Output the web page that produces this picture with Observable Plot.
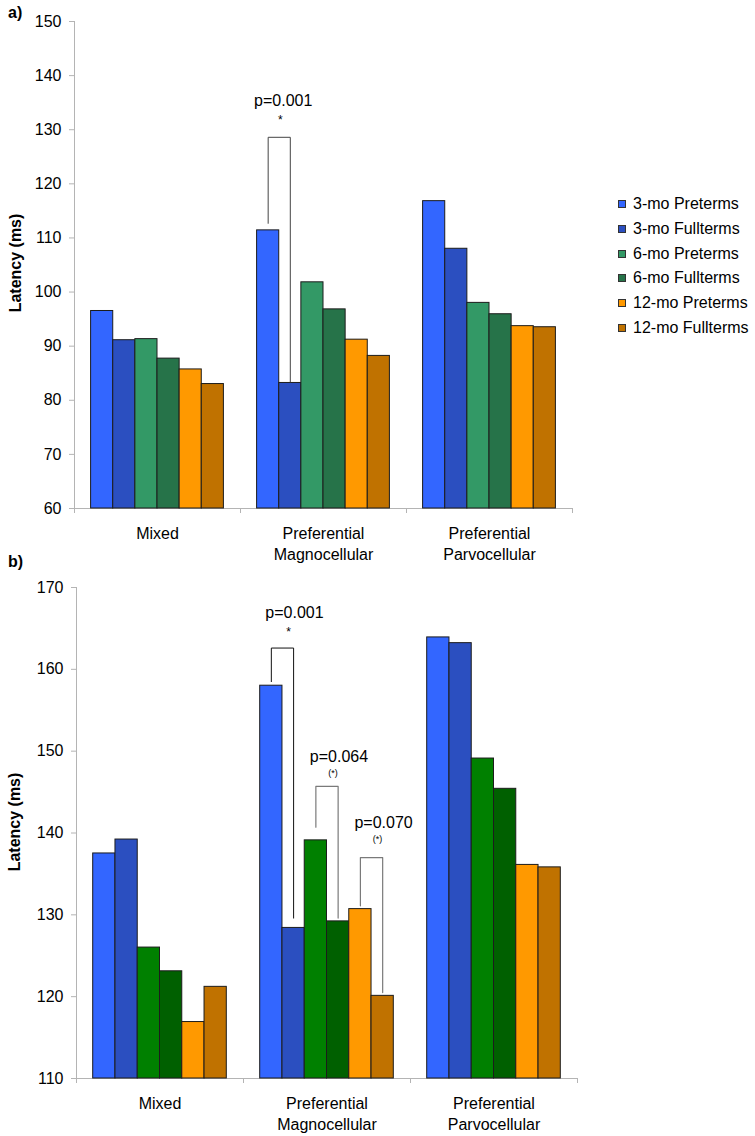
<!DOCTYPE html>
<html><head><meta charset="utf-8">
<script src="https://cdn.jsdelivr.net/npm/d3@7"></script>
<script src="https://cdn.jsdelivr.net/npm/@observablehq/plot@0.6"></script>
<style>
body{margin:0;background:#fff;}
#wrap{position:relative;width:755px;height:1136px;font-family:"Liberation Sans",Arial,sans-serif;color:#000;background:#fff;}
#wrap > svg{position:absolute;left:0;}
.plabel{position:absolute;left:8px;font-weight:bold;font-size:16px;line-height:16px;}
#legend{position:absolute;left:618px;top:192px;font-size:16px;}
.li{display:flex;align-items:center;height:24.7px;white-space:nowrap;}
.sw{width:8px;height:8px;box-sizing:border-box;border:1px solid #333;margin-right:7px;flex:none;}
</style></head><body><div id="wrap"></div>
<script>
// ---- data ----
const categories = ["Mixed", "Preferential\nMagnocellular", "Preferential\nParvocellular"];
const groups = ["3-mo Preterms", "3-mo Fullterms", "6-mo Preterms", "6-mo Fullterms", "12-mo Preterms", "12-mo Fullterms"];
const colorsA = ["#3366ff", "#2b4fc0", "#339966", "#267349", "#ff9900", "#c07200"];
const colorsB = ["#3366ff", "#2b4fc0", "#008000", "#006000", "#ff9900", "#c07200"];

// panel a) values (ms), one array per category, in group order
const aMixed = [96.5, 91.1, 91.3, 87.7, 85.7, 83.0];
const aMagno = [111.4, 83.2, 101.8, 96.8, 91.2, 88.2];
const aParvo = [116.8, 108.0, 98.0, 95.9, 93.7, 93.5];
// panel b) values (ms)
const bMixed = [137.5, 139.2, 126.0, 123.1, 116.9, 121.2];
const bMagno = [158.0, 128.4, 139.1, 129.2, 130.7, 120.1];
const bParvo = [163.9, 163.2, 149.1, 145.4, 136.1, 135.8];

const ticksA = [60, 70, 80, 90, 100, 110, 120, 130, 140, 150];
const ticksB = [110, 120, 130, 140, 150, 160, 170];

// significance brackets: category, bar indices, bracket top, leg ends, labels (data units)
const bracketsA = [
  {cat: categories[1], from: 0, to: 1, top: 128.6, end1: 112.7, end2: 83.4, p: "p=0.001", pY: 135.4, mark: "*", markY: 131.8}
];
const bracketsB = [
  {cat: categories[1], from: 0, to: 1, top: 162.6, end1: 158.5, end2: 129.6, p: "p=0.001", pY: 166.9, mark: "*", markY: 164.6},
  {cat: categories[1], from: 2, to: 3, top: 145.7, end1: 140.7, end2: 129.6, p: "p=0.064", pY: 149.3, mark: "(*)", markY: 147.3},
  {cat: categories[1], from: 4, to: 5, top: 137.0, end1: 131.1, end2: 120.5, p: "p=0.070", pY: 141.2, mark: "(*)", markY: 139.3}
];

const FONT = '"Liberation Sans", Arial, Helvetica, sans-serif';
const GRAY = "#b4b4b4";

function makePanel(cfg) {
  const {values, colors, ticks, brackets} = cfg;
  const yMin = ticks[0], yMax = ticks[ticks.length - 1];
  const rows = [];
  categories.forEach((c, ci) => groups.forEach((g, gi) => rows.push({cat: c, group: g, gi, v: values[ci][gi]})));
  const xDomain = [-0.75, groups.length + 0.75];
  const lines = [];
  brackets.forEach((b, k) => {
    const x1 = b.from + 0.5, x2 = b.to + 0.5;
    lines.push({k, cat: b.cat, x: x1, y: b.end1}, {k, cat: b.cat, x: x1, y: b.top},
               {k, cat: b.cat, x: x2, y: b.top}, {k, cat: b.cat, x: x2, y: b.end2});
  });
  const edgeTicks = categories.map(c => ({cat: c, x: xDomain[0]}))
    .concat([{cat: categories[categories.length - 1], x: xDomain[1]}]);
  const mid = d => (d.from + d.to) / 2 + 0.5;
  return Plot.plot({
    width: 755, height: cfg.height,
    marginTop: cfg.marginTop, marginBottom: cfg.marginBottom,
    marginLeft: cfg.marginLeft, marginRight: cfg.marginRight,
    style: {fontFamily: FONT, fontSize: "16px", color: "#000", background: "white", overflow: "visible"},
    fx: {domain: categories, padding: 0, label: null, axis: null},
    x: {type: "linear", domain: xDomain, axis: null},
    y: {domain: [yMin, yMax], axis: null},
    color: {domain: groups, range: colors},
    marks: [
      Plot.ruleY([yMin], {stroke: GRAY}),
      Plot.ruleX([{cat: categories[0], x: xDomain[0]}], {fx: "cat", x: "x", y1: yMin, y2: yMax, stroke: GRAY}),
      Plot.ruleX(edgeTicks, {fx: "cat", x: "x", y1: yMin, y2: yMin, insetTop: 5, stroke: GRAY}),
      Plot.rect(rows, {fx: "cat", x1: "gi", x2: d => d.gi + 1, y1: yMin, y2: "v", fill: "group", stroke: "#1c1c1c", strokeWidth: 1}),
      Plot.line(lines.filter(d => d.k === 0), {fx: "cat", x: "x", y: "y", z: "k", stroke: cfg.firstStroke, strokeWidth: 1}),
      Plot.line(lines.filter(d => d.k > 0), {fx: "cat", x: "x", y: "y", z: "k", stroke: "#7a7a7a", strokeWidth: 1.2}),
      Plot.text(brackets, {fx: "cat", x: mid, y: "pY", text: "p", fontSize: 16, dx: cfg.textDx, fill: "#000"}),
      Plot.text(brackets, {fx: "cat", x: mid, y: "markY", text: "mark", fontSize: d => d.mark === "*" ? 12 : 9, dx: cfg.markDx, fill: "#000"}),
      Plot.axisY({ticks, tickSize: 5, tickPadding: 8, stroke: GRAY, fill: "#000", label: null, fontSize: 16}),
      Plot.axisFx({anchor: "bottom", tickSize: 0, tickPadding: 16, label: null, lineHeight: 1.31, fontSize: 16, fill: "#000"}),
      Plot.text([{cat: categories[0], x: xDomain[0], y: (yMin + yMax) / 2}], {fx: "cat", x: "x", y: "y", rotate: -90,
        dx: cfg.labelDx, dy: cfg.labelDy, text: () => "Latency (ms)", fontWeight: "bold", fontSize: 16, fill: "#000"})
    ]
  });
}

const wrap = document.getElementById("wrap");

const plotA = makePanel({
  values: [aMixed, aMagno, aParvo], colors: colorsA, ticks: ticksA, brackets: bracketsA,
  height: 565, marginTop: 21, marginBottom: 57, marginLeft: 73, marginRight: 183,
  textDx: 4, markDx: 1, labelDx: -59, labelDy: -2, firstStroke: "#444"
});
plotA.style.top = "0px";
wrap.appendChild(plotA);

const plotB = makePanel({
  values: [bMixed, bMagno, bParvo], colors: colorsB, ticks: ticksB, brackets: bracketsB,
  height: 571, marginTop: 22, marginBottom: 58, marginLeft: 76, marginRight: 178,
  textDx: 12, markDx: 6, labelDx: -62, labelDy: -11, firstStroke: "#111"
});
plotB.style.top = "565px";
wrap.appendChild(plotB);

// panel letters
const la = document.createElement("div"); la.className = "plabel"; la.style.top = "5px"; la.textContent = "a)"; wrap.appendChild(la);
const lb = document.createElement("div"); lb.className = "plabel"; lb.style.top = "554px"; lb.textContent = "b)"; wrap.appendChild(lb);

// legend (panel a colours)
const legend = document.createElement("div"); legend.id = "legend";
groups.forEach((g, i) => {
  const row = document.createElement("div"); row.className = "li";
  const sw = document.createElement("span"); sw.className = "sw"; sw.style.background = colorsA[i];
  const t = document.createElement("span"); t.textContent = g;
  row.appendChild(sw); row.appendChild(t); legend.appendChild(row);
});
wrap.appendChild(legend);
</script>
</body></html>
